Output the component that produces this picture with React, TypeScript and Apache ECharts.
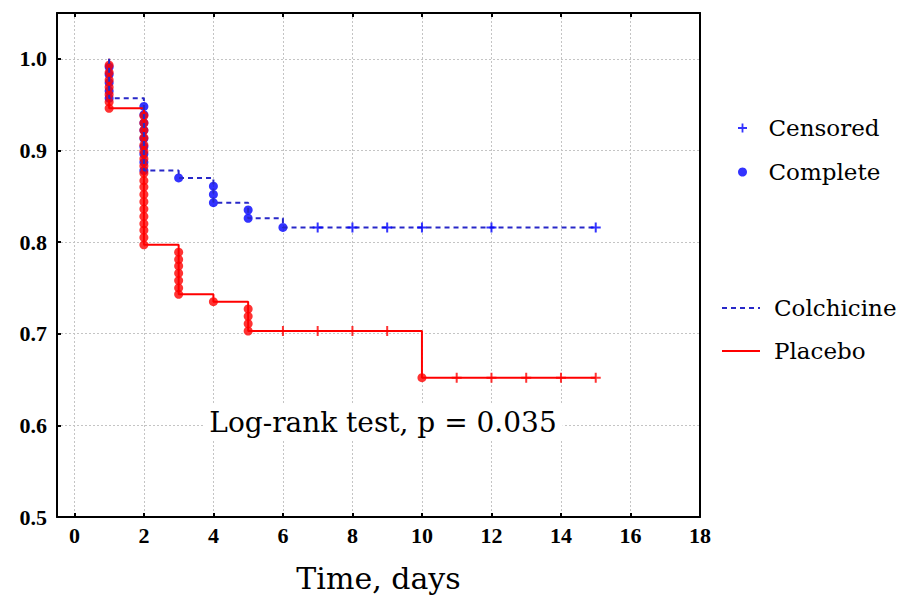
import React, { useEffect, useRef } from "react";
import * as echarts from "echarts";

// Kaplan–Meier data: [time (days), survival]
const colchicineEvents: [number, number][] = [
  [1, 0.991], [1, 0.983], [1, 0.974], [1, 0.965], [1, 0.957],
  [2, 0.948], [2, 0.939], [2, 0.93], [2, 0.922], [2, 0.913], [2, 0.904], [2, 0.896], [2, 0.887], [2, 0.878],
  [3, 0.87],
  [4, 0.861], [4, 0.852], [4, 0.843],
  [5, 0.835], [5, 0.826],
  [6, 0.816],
];
const colchicineCensored: [number, number][] = [
  [7, 0.816], [8, 0.816], [9, 0.816], [10, 0.816], [12, 0.816], [15, 0.816],
];
const placeboEvents: [number, number][] = [
  [1, 0.993], [1, 0.985], [1, 0.977], [1, 0.969], [1, 0.961], [1, 0.953], [1, 0.946],
  [2, 0.938], [2, 0.93], [2, 0.922], [2, 0.914], [2, 0.906], [2, 0.899], [2, 0.891], [2, 0.883], [2, 0.875],
  [2, 0.867], [2, 0.86], [2, 0.852], [2, 0.844], [2, 0.836], [2, 0.828], [2, 0.82], [2, 0.813], [2, 0.805], [2, 0.797],
  [3, 0.789], [3, 0.781], [3, 0.774], [3, 0.766], [3, 0.758], [3, 0.75], [3, 0.743],
  [4, 0.735],
  [5, 0.727], [5, 0.719], [5, 0.711], [5, 0.703],
  [10, 0.652],
];
const placeboCensored: [number, number][] = [
  [6, 0.703], [7, 0.703], [8, 0.703], [9, 0.703],
  [11, 0.652], [12, 0.652], [13, 0.652], [14, 0.652], [15, 0.652],
];
const annotation = "Log-rank test, p = 0.035";

const PLUS = "path://M4,0H6V4H10V6H6V10H4V6H0V4H4Z";

function kmCurve(events: [number, number][], censored: [number, number][]) {
  const lowest = new Map<number, number>();
  for (const [t, s] of events) {
    lowest.set(t, Math.min(lowest.has(t) ? (lowest.get(t) as number) : 1, s));
  }
  const pts: [number, number][] = [[events[0][0], 1]];
  lowest.forEach((s, t) => pts.push([t, s]));
  const lastT = Math.max(...censored.map((c) => c[0]), pts[pts.length - 1][0]);
  pts.push([lastT, pts[pts.length - 1][1]]);
  return pts;
}

const tickFont = { fontFamily: "Liberation Serif", fontWeight: "bold" as const, fontSize: 22, color: "#000" };
const frameLine = { color: "#000", width: 2 };
const gridLine = { color: "#c4c4c4", width: 1, type: [2, 2] as number[] };

export default function App() {
  const ref = useRef<HTMLDivElement>(null);
  useEffect(() => {
    if (!ref.current) return;
    const chart = echarts.init(ref.current, undefined, { renderer: "svg" });
    const xCommon = { type: "value" as const, min: -0.5, max: 18, minInterval: 2, maxInterval: 2 };
    const yCommon = { type: "value" as const, min: 0.5, max: 1.05, interval: 0.1 };
    chart.setOption({
      animation: false,
      backgroundColor: "#fff",
      grid: { left: 57, right: 207, top: 13, bottom: 86, containLabel: false },
      xAxis: [
        {
          ...xCommon,
          position: "bottom",
          name: "Time, days",
          nameLocation: "middle",
          nameGap: 46,
          nameTextStyle: { fontFamily: "DejaVu Serif", fontSize: 30, color: "#000" },
          axisLine: { onZero: false, lineStyle: frameLine },
          axisTick: { inside: true, length: 4, lineStyle: frameLine },
          axisLabel: { ...tickFont, showMinLabel: false, margin: 7 },
          splitLine: { show: true, lineStyle: gridLine },
        },
        {
          ...xCommon,
          position: "top",
          axisLine: { onZero: false, lineStyle: frameLine },
          axisTick: { inside: true, length: 4, lineStyle: frameLine },
          axisLabel: { show: false },
          splitLine: { show: false },
        },
      ],
      yAxis: [
        {
          ...yCommon,
          position: "left",
          axisLine: { show: true, onZero: false, lineStyle: frameLine },
          axisTick: { show: true, inside: true, length: 4, lineStyle: frameLine },
          axisLabel: { ...tickFont, showMaxLabel: false, margin: 10, formatter: (v: number) => v.toFixed(1) },
          splitLine: { show: true, lineStyle: gridLine },
        },
        {
          ...yCommon,
          position: "right",
          axisLine: { show: true, onZero: false, lineStyle: frameLine },
          axisTick: { show: false },
          axisLabel: { show: false },
          splitLine: { show: false },
        },
      ],
      legend: [
        {
          data: ["Censored", "Complete"],
          orient: "vertical",
          left: 733,
          top: 111,
          itemWidth: 42,
          itemHeight: 9,
          itemGap: 20,
          selectedMode: false,
          textStyle: { fontFamily: "DejaVu Serif", fontSize: 23, color: "#000", lineHeight: 24 },
        },
        {
          data: ["Colchicine", "Placebo"],
          orient: "vertical",
          left: 716,
          top: 291,
          itemWidth: 38,
          itemHeight: 10,
          itemGap: 19,
          selectedMode: false,
          itemStyle: { opacity: 0 },
          textStyle: { fontFamily: "DejaVu Serif", fontSize: 23, color: "#000", lineHeight: 24, padding: [0, 0, 0, 9] },
        },
      ],
      graphic: [
        {
          type: "text",
          x: 383,
          y: 422,
          z: 10,
          style: {
            text: annotation,
            font: '28px "DejaVu Serif"',
            fill: "#000",
            align: "center",
            verticalAlign: "middle",
            backgroundColor: "#fff",
            padding: [3, 6],
          },
        },
      ],
      series: [
        {
          type: "scatter",
          name: "Complete",
          data: colchicineEvents,
          symbol: "circle",
          symbolSize: 9,
          itemStyle: { color: "#0000ff" },
          z: 1,
        },
        {
          type: "line",
          name: "Placebo",
          data: kmCurve(placeboEvents, placeboCensored),
          step: "end",
          symbol: "none",
          showSymbol: false,
          lineStyle: { color: "#ff0000", width: 2 },
          itemStyle: { color: "#ff0000" },
          z: 2,
        },
        {
          type: "scatter",
          name: "Placebo complete",
          data: placeboEvents,
          symbol: "circle",
          symbolSize: 9,
          itemStyle: { color: "#ff0000" },
          z: 3,
        },
        {
          type: "line",
          name: "Colchicine",
          data: kmCurve(colchicineEvents, colchicineCensored),
          step: "end",
          symbol: "none",
          showSymbol: false,
          lineStyle: { color: "#2828c8", width: 2, type: [5, 4] },
          itemStyle: { color: "#2828c8" },
          z: 4,
        },
        {
          type: "scatter",
          name: "Censored",
          data: colchicineCensored,
          symbol: PLUS,
          symbolSize: 10,
          itemStyle: { color: "#0000ff" },
          z: 5,
        },
        {
          type: "scatter",
          name: "Placebo censored",
          data: placeboCensored,
          symbol: PLUS,
          symbolSize: 10,
          itemStyle: { color: "#ff0000" },
          z: 5,
        },
      ],
    });
    return () => chart.dispose();
  }, []);
  return (
    <div
      ref={ref}
      style={{ position: "fixed", left: 0, top: 0, width: 907, height: 603, background: "#fff" }}
    />
  );
}
